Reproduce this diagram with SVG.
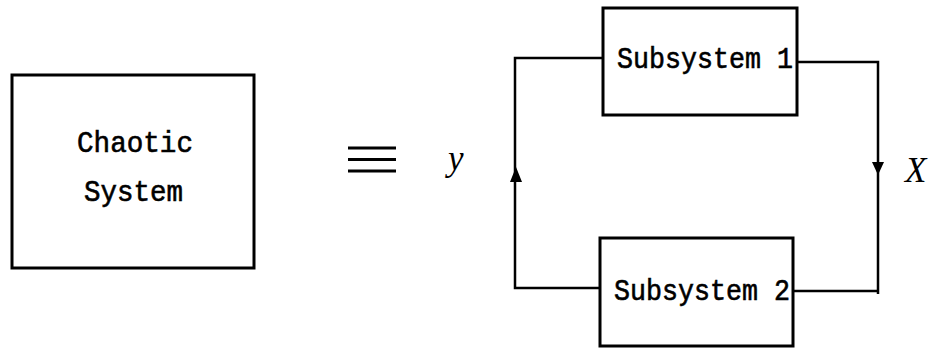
<svg xmlns="http://www.w3.org/2000/svg" width="933" height="351" viewBox="0 0 933 351">
<defs>
<style>
.box{fill:#fff;stroke:#000;stroke-width:3}
.tt{font-family:"Liberation Mono","DejaVu Sans Mono",monospace;font-size:29px;fill:#000;stroke:#000;stroke-width:0.6}
.math{font-family:"Liberation Serif","DejaVu Serif",serif;font-style:italic;fill:#000}
.wire{fill:none;stroke:#000;stroke-width:2.5}
.head{fill:#000;stroke:none}
</style>
</defs>
<rect width="933" height="351" fill="#fff"/>
<g id="chaotic-system">
<rect class="box" x="12" y="75" width="242" height="193"/>
<text class="tt" x="77" y="152" textLength="116" lengthAdjust="spacingAndGlyphs">Chaotic</text>
<text class="tt" x="84" y="201" textLength="99" lengthAdjust="spacingAndGlyphs">System</text>
</g>
<g id="equiv">
<line x1="348" y1="148" x2="396" y2="148" stroke="#000" stroke-width="3"/>
<line x1="348" y1="159.5" x2="396" y2="159.5" stroke="#000" stroke-width="3"/>
<line x1="348" y1="171" x2="396" y2="171" stroke="#000" stroke-width="3"/>
</g>
<g id="subsystem-1">
<rect class="box" x="603" y="8" width="194" height="107"/>
<text class="tt" x="617" y="68" textLength="176" lengthAdjust="spacingAndGlyphs">Subsystem 1</text>
</g>
<g id="subsystem-2">
<rect class="box" x="600" y="238" width="193" height="108"/>
<text class="tt" x="614" y="300" textLength="176" lengthAdjust="spacingAndGlyphs">Subsystem 2</text>
</g>
<g id="connectors">
<polyline class="wire" points="600,288 515,288 515,58 603,58"/>
<polygon class="head" points="516,167 510,182 522,182"/>
<polyline class="wire" points="797,62 878,62 878,294"/>
<line class="wire" x1="793" y1="291" x2="878" y2="291"/>
<polygon class="head" points="878,175 872,162 884,162"/>
</g>
<text class="math" x="448" y="170" font-size="35">y</text>
<text class="math" x="905" y="182" font-size="35">X</text>
</svg>
